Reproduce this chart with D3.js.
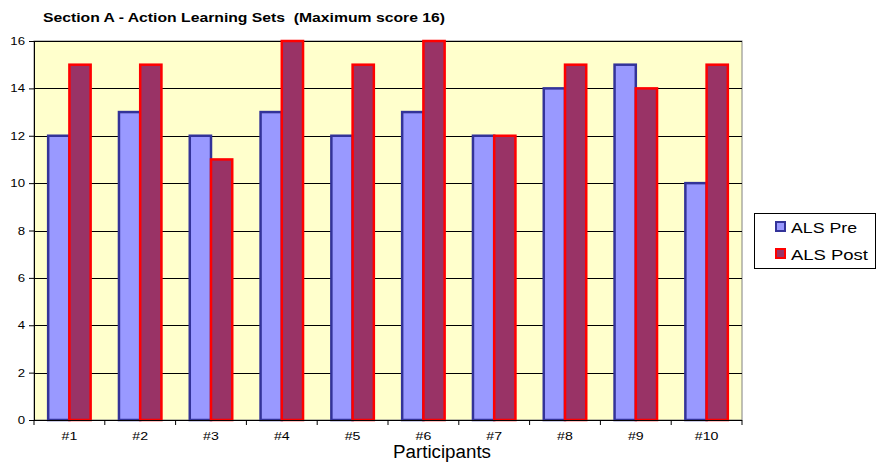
<!DOCTYPE html>
<html>
<head>
<meta charset="utf-8">
<script src="https://cdn.jsdelivr.net/npm/d3@7/dist/d3.min.js"></script>
<style>
  html, body { margin: 0; padding: 0; background: #ffffff; }
  svg { display: block; font-family: Arial, "Liberation Sans", sans-serif; }
</style>
</head>
<body>
<svg id="chart" width="877" height="464"></svg>
<script>
// Participant scores before and after the Action Learning Sets
const participants = ["#1", "#2", "#3", "#4", "#5", "#6", "#7", "#8", "#9", "#10"];
const alsPre  = [12, 13, 12, 13, 12, 13, 12, 14, 15, 10];
const alsPost = [15, 15, 11, 16, 15, 16, 12, 15, 14, 15];
const yTicks  = [0, 2, 4, 6, 8, 10, 12, 14, 16];
const seriesNames = ["ALS Pre", "ALS Post"];

const svg = d3.select("#chart");
const plot = { left: 34, right: 742, top: 41, bottom: 420 };
const textStretch = 1.2; // labels are drawn slightly wide

const x = d3.scaleBand()
  .domain(participants)
  .range([plot.left, plot.right])
  .paddingInner(0.4)
  .paddingOuter(0.2);
const inner = d3.scaleBand()
  .domain(seriesNames)
  .range([0, x.bandwidth()]);
const y = d3.scaleLinear().domain([0, 16]).range([plot.bottom, plot.top]);

// Plot area background
svg.append("rect")
  .attr("x", plot.left).attr("y", plot.top)
  .attr("width", plot.right - plot.left).attr("height", plot.bottom - plot.top)
  .attr("fill", "#ffffcc")
  .attr("stroke", "#808080").attr("stroke-width", 1);

// Horizontal gridlines
svg.append("g").selectAll("line")
  .data(yTicks.filter(d => d > 0))
  .join("line")
  .attr("x1", plot.left).attr("x2", plot.right)
  .attr("y1", d => Math.round(y(d)) + 0.5).attr("y2", d => Math.round(y(d)) + 0.5)
  .attr("stroke", "#000").attr("stroke-width", 1);

// Bars
const styles = {
  "ALS Pre":  { fill: "#9999ff", stroke: "#333399", values: alsPre },
  "ALS Post": { fill: "#993366", stroke: "#ff0000", values: alsPost }
};
seriesNames.forEach(name => {
  const s = styles[name];
  svg.append("g").selectAll("rect")
    .data(participants.map((p, i) => ({ p, v: s.values[i] })))
    .join("rect")
    .attr("x", d => x(d.p) + inner(name))
    .attr("y", d => y(d.v))
    .attr("width", inner.bandwidth())
    .attr("height", d => y(0) - y(d.v))
    .attr("fill", s.fill)
    .attr("stroke", s.stroke)
    .attr("stroke-width", 2.5);
});

// Y axis
const yAxis = svg.append("g")
  .attr("transform", `translate(${plot.left},0)`)
  .call(d3.axisLeft(y).tickValues(yTicks).tickSize(5).tickPadding(4).tickFormat(d3.format("d")));
yAxis.select(".domain").attr("stroke", "#000");
yAxis.selectAll(".tick text")
  .attr("font-size", 11).attr("fill", "#000")
  .attr("font-family", "Arial, 'Liberation Sans', sans-serif")
  .attr("transform", `translate(-9,0) scale(${textStretch},1)`)
  .attr("x", 0);

// X axis with ticks between categories
const xAxisG = svg.append("g").attr("transform", `translate(0,${plot.bottom})`);
xAxisG.append("line")
  .attr("x1", plot.left).attr("x2", plot.right)
  .attr("y1", 0.5).attr("y2", 0.5).attr("stroke", "#000");
const step = (plot.right - plot.left) / participants.length;
xAxisG.selectAll("line.tick")
  .data(d3.range(participants.length + 1))
  .join("line")
  .attr("class", "tick")
  .attr("x1", i => plot.left + i * step).attr("x2", i => plot.left + i * step)
  .attr("y1", 0).attr("y2", 5).attr("stroke", "#000");
xAxisG.selectAll("text")
  .data(participants)
  .join("text")
  .attr("transform", d => `translate(${x(d) + x.bandwidth() / 2},20) scale(1.35,1)`)
  .attr("text-anchor", "middle")
  .attr("font-size", 10.5)
  .text(d => d);

// Titles
svg.append("text")
  .attr("x", 43).attr("y", 22)
  .attr("font-size", 12).attr("font-weight", "bold")
  .attr("textLength", 402).attr("lengthAdjust", "spacingAndGlyphs")
  .style("white-space", "pre")
  .text("Section A - Action Learning Sets  (Maximum score 16)");
svg.append("text")
  .attr("x", 393).attr("y", 458)
  .attr("font-size", 18)
  .attr("textLength", 98).attr("lengthAdjust", "spacingAndGlyphs")
  .text("Participants");

// Legend
const legend = svg.append("g");
legend.append("rect")
  .attr("x", 754.5).attr("y", 213.5).attr("width", 121).attr("height", 55)
  .attr("fill", "#fff").attr("stroke", "#000");
seriesNames.forEach((name, i) => {
  const s = styles[name];
  const cy = 227 + i * 27;
  legend.append("rect")
    .attr("x", 776).attr("y", cy - 5).attr("width", 9).attr("height", 9)
    .attr("fill", s.fill).attr("stroke", s.stroke).attr("stroke-width", 2);
  legend.append("text")
    .attr("x", 791).attr("y", cy + 5.5)
    .attr("font-size", 15)
    .attr("textLength", name === "ALS Pre" ? 66 : 77).attr("lengthAdjust", "spacingAndGlyphs")
    .text(name);
});
</script>
</body>
</html>
